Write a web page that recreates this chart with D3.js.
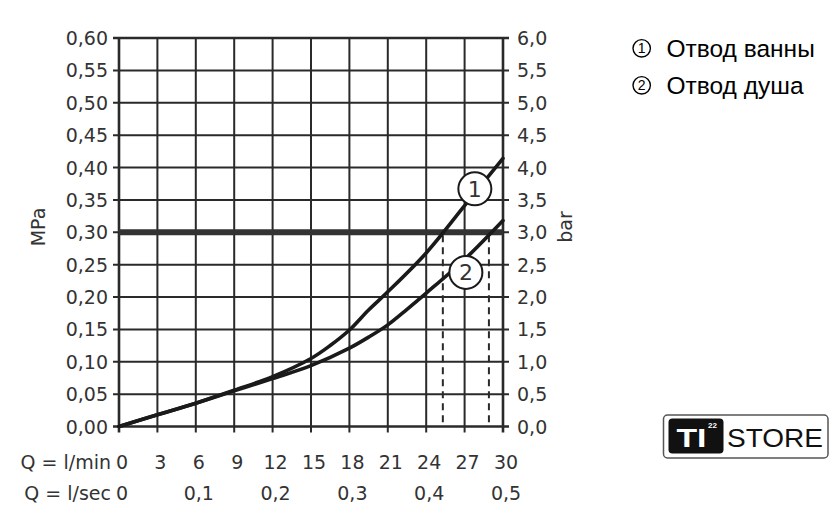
<!DOCTYPE html>
<html>
<head>
<meta charset="utf-8">
<script src="https://cdn.jsdelivr.net/npm/d3@7"></script>
<style>
  html, body { margin: 0; padding: 0; background: #fff; }
  svg { display: block; }
</style>
</head>
<body>
<svg id="chart" width="840" height="527"></svg>
<script>
// ---- data ----
const flowTicksLmin = [0, 3, 6, 9, 12, 15, 18, 21, 24, 27, 30];
const flowTicksLsec = [0, 0.1, 0.2, 0.3, 0.4, 0.5];
const pressureTicksMPa = [0, 0.05, 0.10, 0.15, 0.20, 0.25, 0.30, 0.35, 0.40, 0.45, 0.50, 0.55, 0.60];
const pressureTicksBar = [0, 0.5, 1.0, 1.5, 2.0, 2.5, 3.0, 3.5, 4.0, 4.5, 5.0, 5.5, 6.0];

const bathFlow     = [0, 3, 6, 9, 12, 15, 16.5, 18, 19.5, 21, 24, 27, 30];
const bathPressure = [0, 0.018, 0.036, 0.056, 0.077, 0.105, 0.125, 0.149, 0.180, 0.208, 0.268, 0.341, 0.414];

const showerFlow     = [0, 3, 6, 9, 12, 15, 18, 19.5, 21, 22.5, 24, 27, 30];
const showerPressure = [0, 0.018, 0.036, 0.055, 0.074, 0.094, 0.121, 0.138, 0.157, 0.181, 0.206, 0.258, 0.318];

const referencePressure = 0.30;
const markedFlows = [25.3, 28.9];
const seriesNames = ["Отвод ванны", "Отвод душа"];

// ---- setup ----
const svg = d3.select("#chart");
const x = d3.scaleLinear().domain([0, 30]).range([119, 503]);
const y = d3.scaleLinear().domain([0, 0.6]).range([426.5, 38]);
const xSec = d3.scaleLinear().domain([0, 0.5]).range([119, 503]);
const yBar = d3.scaleLinear().domain([0, 6]).range([426.5, 38]);

const loc = d3.formatLocale({decimal: ",", thousands: " ", grouping: [3], currency: ["", ""]});
const f2 = loc.format(".2f"), f1 = loc.format(".1f");

const axisFont = "DejaVu Sans";
const ink = "#2a2a2a";
const textInk = "#333";

// grid
const grid = svg.append("g");
grid.selectAll(".v").data(flowTicksLmin).join("line")
  .attr("x1", d => x(d)).attr("x2", d => x(d))
  .attr("y1", y(0.6)).attr("y2", y(0) + 6)
  .attr("stroke", ink).attr("stroke-width", d => (d === 0 || d === 30) ? 2.6 : 2);
grid.selectAll(".h").data(pressureTicksMPa).join("line")
  .attr("x1", x(0) - 6).attr("x2", x(30) + 6)
  .attr("y1", d => y(d)).attr("y2", d => y(d))
  .attr("stroke", ink).attr("stroke-width", d => (d === 0 || d === 0.6) ? 2.6 : 2);

// reference thick line
svg.append("line")
  .attr("x1", x(0)).attr("x2", x(30))
  .attr("y1", y(referencePressure)).attr("y2", y(referencePressure))
  .attr("stroke", "#333").attr("stroke-width", 6);

// dashed lines
svg.selectAll(".dash").data(markedFlows).join("line")
  .attr("x1", d => x(d)).attr("x2", d => x(d))
  .attr("y1", y(referencePressure) + 3).attr("y2", y(0))
  .attr("stroke", ink).attr("stroke-width", 2)
  .attr("stroke-dasharray", "7,5");

// curves
const line = d3.line().x(d => x(d[0])).y(d => y(d[1])).curve(d3.curveCatmullRom.alpha(0.5));
const bathPts = bathFlow.map((v, i) => [v, bathPressure[i]]);
const showerPts = showerFlow.map((v, i) => [v, showerPressure[i]]);
[bathPts, showerPts].forEach(pts => {
  svg.append("path").datum(pts).attr("d", line)
    .attr("fill", "none").attr("stroke", "#1a1a1a")
    .attr("stroke-width", 3.6).attr("stroke-linecap", "round");
});

// circle labels on curves
const curveLabels = [{n: "1", fx: 27.8, p: 0.367}, {n: "2", fx: 27.1, p: 0.238}];
curveLabels.forEach(c => {
  svg.append("circle").attr("cx", x(c.fx)).attr("cy", y(c.p)).attr("r", 16.5)
    .attr("fill", "#fff").attr("stroke", "#1a1a1a").attr("stroke-width", 2);
  svg.append("text").attr("x", x(c.fx)).attr("y", y(c.p) + 8)
    .attr("text-anchor", "middle").attr("font-family", axisFont).attr("font-size", 22)
    .attr("fill", textInk).text(c.n);
});

// left axis labels
svg.selectAll(".ly").data(pressureTicksMPa).join("text")
  .attr("x", 108).attr("y", d => y(d) + 7)
  .attr("text-anchor", "end").attr("font-family", axisFont).attr("font-size", 19)
  .attr("fill", textInk).text(d => f2(d));
// right axis labels
svg.selectAll(".ry").data(pressureTicksBar).join("text")
  .attr("x", 517).attr("y", d => yBar(d) + 7)
  .attr("text-anchor", "start").attr("font-family", axisFont).attr("font-size", 19)
  .attr("fill", textInk).text(d => f1(d));

// axis titles
svg.append("text").attr("transform", "translate(45,227) rotate(-90)")
  .attr("text-anchor", "middle").attr("font-family", axisFont).attr("font-size", 19)
  .attr("fill", textInk).text("MPa");
svg.append("text").attr("transform", "translate(572,227) rotate(-90)")
  .attr("text-anchor", "middle").attr("font-family", axisFont).attr("font-size", 19)
  .attr("fill", textInk).text("bar");

// bottom axes
svg.append("text").attr("x", 111).attr("y", 469).attr("text-anchor", "end")
  .attr("font-family", axisFont).attr("font-size", 19).attr("fill", textInk).text("Q = l/min");
svg.selectAll(".bx").data(flowTicksLmin).join("text")
  .attr("x", d => x(d) + 3).attr("y", 469).attr("text-anchor", "middle")
  .attr("font-family", axisFont).attr("font-size", 19).attr("fill", textInk)
  .text(d => d);
svg.append("text").attr("x", 111).attr("y", 500).attr("text-anchor", "end")
  .attr("font-family", axisFont).attr("font-size", 19).attr("fill", textInk).text("Q = l/sec");
svg.selectAll(".bs").data(flowTicksLsec).join("text")
  .attr("x", d => xSec(d) + 3).attr("y", 500).attr("text-anchor", "middle")
  .attr("font-family", axisFont).attr("font-size", 19).attr("fill", textInk)
  .text(d => d === 0 ? "0" : f1(d));

// legend
const legendRows = [48.3, 85.3];
seriesNames.forEach((name, i) => {
  const cy = legendRows[i];
  svg.append("circle").attr("cx", 641.7).attr("cy", cy).attr("r", 8.7)
    .attr("fill", "none").attr("stroke", "#000").attr("stroke-width", 1.4);
  svg.append("text").attr("x", 641.7).attr("y", cy + 5).attr("text-anchor", "middle")
    .attr("font-family", "Liberation Sans").attr("font-size", 14).attr("fill", "#000").text(i + 1);
  svg.append("text").attr("x", 666.5).attr("y", cy + 8.4)
    .attr("font-family", "Liberation Sans").attr("font-size", 24.5).attr("fill", "#000").text(name);
});

// logo
const logo = svg.append("g");
logo.append("rect").attr("x", 663.5).attr("y", 415).attr("width", 164.5).attr("height", 43)
  .attr("rx", 4).attr("fill", "#fff").attr("stroke", "#555").attr("stroke-width", 1.5);
logo.append("rect").attr("x", 668.5).attr("y", 418.5).attr("width", 55).attr("height", 35)
  .attr("rx", 4).attr("fill", "#111");
logo.append("text").attr("x", 676.5).attr("y", 447).attr("font-family", "Liberation Sans")
  .attr("font-weight", "bold").attr("font-size", 25).attr("fill", "#fff")
  .attr("textLength", 30).attr("lengthAdjust", "spacingAndGlyphs").text("TI");
logo.append("text").attr("x", 712.5).attr("y", 428).attr("text-anchor", "middle")
  .attr("font-family", "Liberation Sans").attr("font-weight", "bold").attr("font-size", 8)
  .attr("fill", "#fff").text("22");
logo.append("text").attr("x", 727).attr("y", 447).attr("font-family", "Liberation Sans")
  .attr("font-size", 25.5).attr("fill", "#111")
  .attr("textLength", 96).attr("lengthAdjust", "spacingAndGlyphs").text("STORE");
</script>
</body>
</html>
